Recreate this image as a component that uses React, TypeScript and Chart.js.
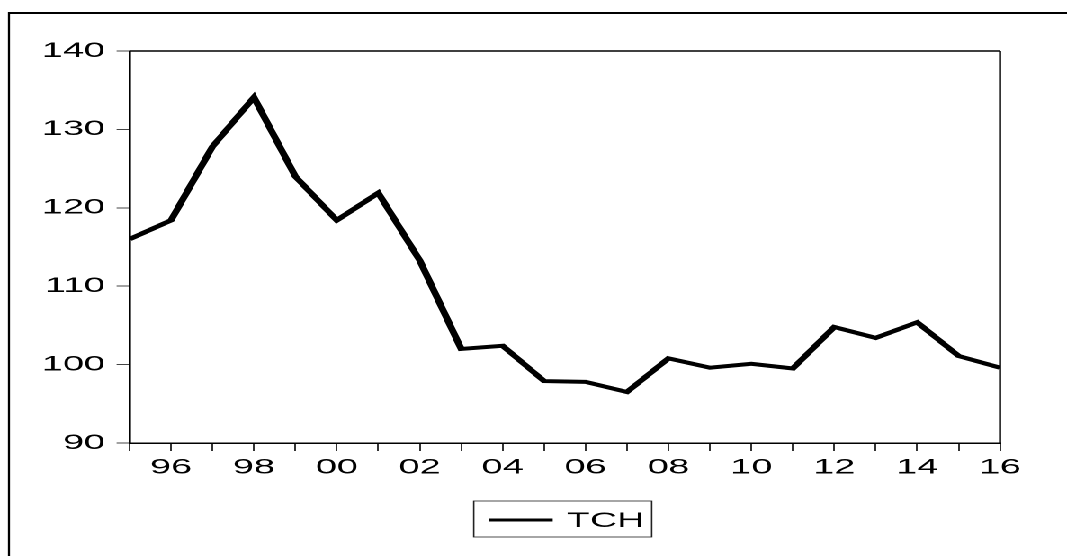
import React, { useEffect, useRef } from "react";
import { Chart, registerables } from "chart.js";

Chart.register(...registerables);

const years = [1995, 1996, 1997, 1998, 1999, 2000, 2001, 2002, 2003, 2004, 2005, 2006, 2007, 2008, 2009, 2010, 2011, 2012, 2013, 2014, 2015, 2016];
const tchValues = [116.0, 118.4, 127.8, 134.1, 124.0, 118.4, 121.9, 113.3, 102.0, 102.4, 97.9, 97.8, 96.5, 100.8, 99.6, 100.1, 99.5, 104.8, 103.4, 105.4, 101.1, 99.6];
const seriesLabel = "TCH";
const yTicks = [90, 100, 110, 120, 130, 140];

const SX = 1067 / 593; // horizontal stretch of the picture
const W = 593;
const H = 556;
const FONT = '"Liberation Sans", Arial, Helvetica, sans-serif';

export default function App() {
  const ref = useRef<HTMLCanvasElement | null>(null);
  useEffect(() => {
    const canvas = ref.current;
    if (!canvas) return;
    const frame = {
      id: "frame",
      afterDraw(chart: any) {
        const ctx = chart.ctx;
        const a = chart.chartArea;
        ctx.save();
        ctx.strokeStyle = "#000";
        // outer border (left & top)
        ctx.lineWidth = 2;
        ctx.beginPath();
        ctx.moveTo(5, 13);
        ctx.lineTo(W, 13);
        ctx.stroke();
        ctx.lineWidth = 1.15;
        ctx.beginPath();
        ctx.moveTo(5, 12);
        ctx.lineTo(5, H);
        ctx.stroke();
        // plot top & right
        ctx.lineWidth = 1.5;
        ctx.beginPath();
        ctx.moveTo(a.left, a.top);
        ctx.lineTo(a.right, a.top);
        ctx.stroke();
        ctx.lineWidth = 1.2;
        ctx.beginPath();
        ctx.moveTo(a.right, a.top);
        ctx.lineTo(a.right, a.bottom);
        ctx.stroke();
        // legend
        const lx0 = 263.3, lx1 = 362.2, ly0 = 501, ly1 = 537;
        ctx.lineWidth = 0.8;
        ctx.strokeStyle = "#222";
        ctx.strokeRect(lx0, ly0, lx1 - lx0, ly1 - ly0);
        ctx.strokeStyle = "#000";
        ctx.lineWidth = 3;
        ctx.beginPath();
        ctx.moveTo(271.7, 520);
        ctx.lineTo(307.2, 520);
        ctx.stroke();
        ctx.fillStyle = "#000";
        ctx.font = `21px ${FONT}`;
        ctx.textBaseline = "middle";
        ctx.textAlign = "left";
        ctx.fillText(chart.data.datasets[0].label, 315, 521);
        ctx.restore();
      },
    };
    const chart = new Chart(canvas, {
      type: "line",
      data: {
        datasets: [
          {
            label: seriesLabel,
            data: years.map((y, i) => ({ x: y, y: tchValues[i] })),
            borderColor: "#000",
            borderWidth: 4,
            pointRadius: 0,
            tension: 0,
            borderJoinStyle: "miter",
            fill: false,
          },
        ],
      },
      options: {
        animation: false,
        responsive: false,
        devicePixelRatio: 2,
        layout: { padding: { left: 0, top: 51, right: 37.2, bottom: 73 } },
        plugins: { legend: { display: false }, tooltip: { enabled: false } },
        scales: {
          x: {
            type: "linear",
            min: years[0],
            max: years[years.length - 1],
            afterFit: (s: any) => {
              s.height = 40;
            },
            afterBuildTicks: (s: any) => {
              s.ticks = years.map((v) => ({ value: v }));
            },
            ticks: {
              autoSkip: false,
              maxRotation: 0,
              padding: 4,
              color: "#000",
              font: { family: FONT, size: 21 },
              callback: (v: any) => {
                const n = Number(v);
                return n % 2 === 0 ? String(n % 100).padStart(2, "0") : "";
              },
            },
            grid: {
              drawOnChartArea: false,
              drawTicks: true,
              tickLength: 8,
              tickWidth: 1,
              lineWidth: 1,
              tickColor: "#333",
              color: "#333",
            },
            border: { display: true, color: "#000", width: 1.5 },
          },
          y: {
            type: "linear",
            min: yTicks[0],
            max: yTicks[yTicks.length - 1],
            afterFit: (s: any) => {
              s.width = 72;
            },
            afterBuildTicks: (s: any) => {
              s.ticks = yTicks.map((v) => ({ value: v }));
            },
            ticks: {
              padding: 6.5,
              color: "#000",
              font: { family: FONT, size: 21 },
            },
            grid: {
              drawOnChartArea: false,
              drawTicks: true,
              tickLength: 7.2,
              tickWidth: 1,
              lineWidth: 1,
              tickColor: "#444",
              color: "#444",
            },
            border: { display: true, color: "#000", width: 1.3 },
          },
        },
      },
      plugins: [frame],
    });
    return () => chart.destroy();
  }, []);
  return (
    <div
      style={{
        position: "absolute",
        left: 0,
        top: 0,
        width: W,
        height: H,
        transform: `scaleX(${SX})`,
        transformOrigin: "0 0",
        background: "#fff",
      }}
    >
      <canvas ref={ref} width={W} height={H} style={{ display: "block" }} />
    </div>
  );
}
